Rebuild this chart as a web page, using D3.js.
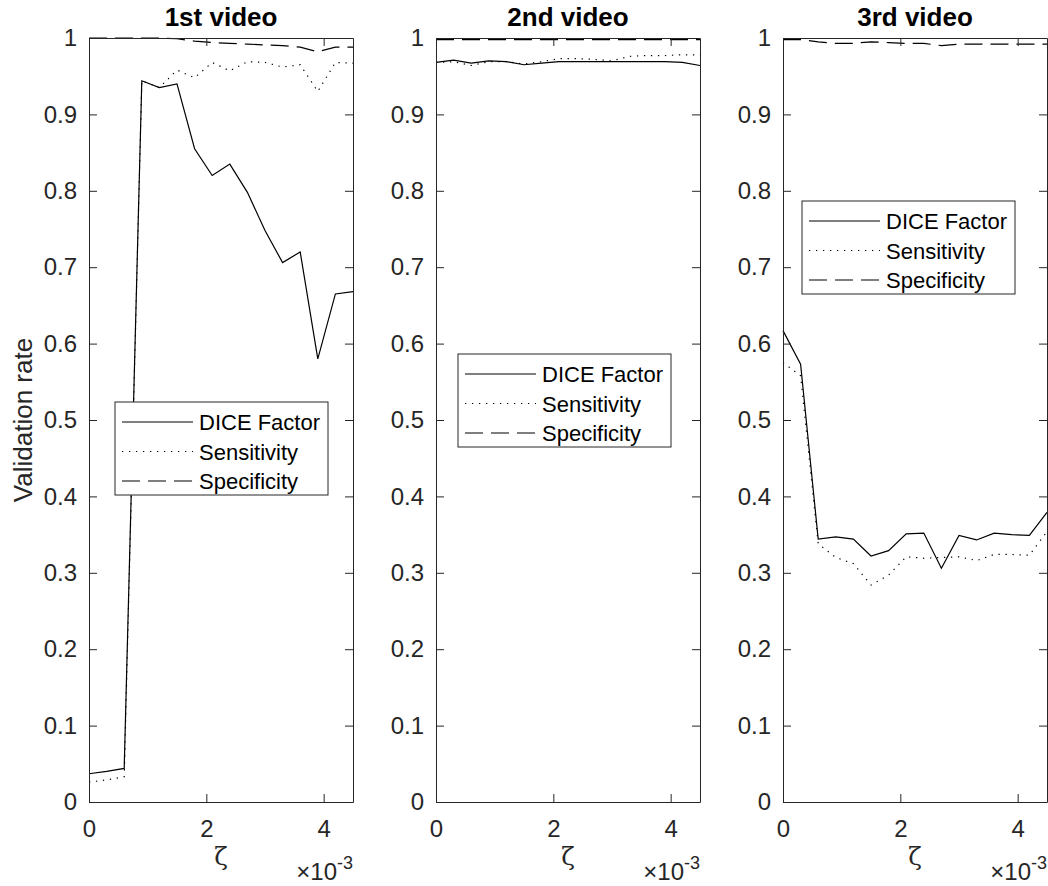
<!DOCTYPE html>
<html>
<head>
<meta charset="utf-8">
<script src="https://cdn.jsdelivr.net/npm/d3@7"></script>
<style>
  body { margin: 0; background: #fff; }
  svg { font-family: "Liberation Sans", Arial, sans-serif; }
</style>
</head>
<body>
<svg width="1048" height="886"></svg>
<script>
// zeta values (x axis) shared by every panel
var zeta = [0, 0.0003, 0.0006, 0.0009, 0.0012, 0.0015, 0.0018, 0.0021, 0.0024,
            0.0027, 0.0030, 0.0033, 0.0036, 0.0039, 0.0042, 0.0045];
var xTicks = [0, 0.002, 0.004];
var yTicks = [0, 0.1, 0.2, 0.3, 0.4, 0.5, 0.6, 0.7, 0.8, 0.9, 1];
var titles = ['1st video', '2nd video', '3rd video'];
var seriesNames = ['DICE Factor', 'Sensitivity', 'Specificity'];

// 1st video
var dice1 = [0.037, 0.040, 0.044, 0.944, 0.935, 0.940, 0.855, 0.820, 0.835, 0.798, 0.748, 0.706, 0.720, 0.580, 0.665, 0.668];
var sens1 = [0.026, 0.029, 0.033, 0.944, 0.935, 0.958, 0.948, 0.968, 0.957, 0.969, 0.968, 0.962, 0.965, 0.930, 0.968, 0.967];
var spec1 = [1.000, 1.000, 1.000, 1.000, 1.000, 0.999, 0.996, 0.994, 0.993, 0.992, 0.991, 0.990, 0.988, 0.982, 0.988, 0.988];
// 2nd video
var dice2 = [0.968, 0.971, 0.967, 0.970, 0.969, 0.965, 0.967, 0.969, 0.969, 0.969, 0.969, 0.969, 0.969, 0.969, 0.968, 0.964];
var sens2 = [0.968, 0.969, 0.964, 0.969, 0.969, 0.966, 0.969, 0.973, 0.973, 0.972, 0.970, 0.976, 0.977, 0.977, 0.978, 0.978];
var spec2 = [0.998, 0.998, 0.998, 0.998, 0.998, 0.998, 0.998, 0.998, 0.998, 0.998, 0.998, 0.998, 0.998, 0.998, 0.998, 0.998];
// 3rd video
var dice3 = [0.617, 0.573, 0.344, 0.347, 0.344, 0.322, 0.329, 0.351, 0.352, 0.306, 0.349, 0.343, 0.352, 0.350, 0.349, 0.379];
var sens3 = [0.575, 0.558, 0.338, 0.320, 0.312, 0.284, 0.297, 0.321, 0.319, 0.320, 0.321, 0.316, 0.324, 0.324, 0.323, 0.354];
var spec3 = [0.998, 0.998, 0.995, 0.993, 0.993, 0.995, 0.994, 0.993, 0.993, 0.990, 0.992, 0.992, 0.992, 0.992, 0.992, 0.992];

var panels = [
  { title: titles[0], series: [dice1, sens1, spec1], left: 89,  legend: { x: 26, y: 364 } },
  { title: titles[1], series: [dice2, sens2, spec2], left: 436, legend: { x: 22, y: 316 } },
  { title: titles[2], series: [dice3, sens3, spec3], left: 783, legend: { x: 19, y: 163 } }
];

var dashes = [null, '1.3,5.7', '18,8'];
var axisColor = '#262626';

var svg = d3.select('svg');
var marginTop = 38, h = 764, w = 264;

var y = d3.scaleLinear().domain([0, 1]).range([h, 0]);
var x = d3.scaleLinear().domain([0, 0.0045]).range([0, w]);

panels.forEach(function(p, pi) {
    var g = svg.append('g')
        .attr('transform', 'translate(' + p.left + ',' + marginTop + ')');

    // lines
    var line = d3.line()
        .x(function(d, i) { return x(zeta[i]); })
        .y(function(d) { return y(d); });

    p.series.forEach(function(s, si) {
        g.append('path')
            .datum(s)
            .attr('d', line)
            .attr('fill', 'none')
            .attr('stroke', '#000')
            .attr('stroke-width', 1.2)
            .attr('stroke-dasharray', dashes[si]);
    });

    // axes (MATLAB style: ticks inside, box on)
    var yAxis = d3.axisLeft(y).tickValues(yTicks).tickSize(-8).tickSizeOuter(0).tickPadding(12)
        .tickFormat(function(d) { return d3.format('~g')(d); });
    var yAxisR = d3.axisRight(y).tickValues(yTicks).tickSize(-8).tickSizeOuter(0).tickFormat('');
    var xAxis = d3.axisBottom(x).tickValues(xTicks).tickSize(-8).tickSizeOuter(0).tickPadding(18)
        .tickFormat(function(d) { return Math.round(d * 1000); });
    var xAxisT = d3.axisTop(x).tickValues(xTicks).tickSize(-8).tickSizeOuter(0).tickFormat('');

    g.append('g').call(yAxis);
    g.append('g').attr('transform', 'translate(' + w + ',0)').call(yAxisR);
    g.append('g').attr('transform', 'translate(0,' + h + ')').call(xAxis);
    g.append('g').call(xAxisT);

    g.selectAll('.domain, .tick line').attr('stroke', axisColor).attr('stroke-width', 1);
    g.selectAll('.tick text')
        .attr('fill', axisColor)
        .style('font-size', '24px')
        .style('font-family', '"Liberation Sans", Arial, sans-serif');

    // title
    g.append('text')
        .attr('x', w / 2)
        .attr('y', -12)
        .attr('text-anchor', 'middle')
        .style('font-size', '26px')
        .style('font-weight', 'bold')
        .attr('fill', '#000')
        .text(p.title);

    // x label
    g.append('text')
        .attr('x', w / 2)
        .attr('y', h + 63)
        .attr('text-anchor', 'middle')
        .style('font-size', '25px')
        .style('font-family', '"DejaVu Serif", serif')
        .attr('fill', axisColor)
        .text('ζ');

    // exponent
    var ex = g.append('text')
        .attr('x', w)
        .attr('y', h + 78)
        .attr('text-anchor', 'end')
        .style('font-size', '24px')
        .attr('fill', axisColor);
    ex.append('tspan').text('×10');
    ex.append('tspan').attr('dy', -11).style('font-size', '18px').text('-3');

    // legend
    var lg = g.append('g').attr('transform', 'translate(' + p.legend.x + ',' + p.legend.y + ')');
    lg.append('rect')
        .attr('width', 213)
        .attr('height', 93)
        .attr('fill', '#fff')
        .attr('stroke', axisColor)
        .attr('stroke-width', 1);
    seriesNames.forEach(function(name, si) {
        var ry = 20 + si * 29.5;
        lg.append('line')
            .attr('x1', 7).attr('x2', 78)
            .attr('y1', ry).attr('y2', ry)
            .attr('stroke', '#000')
            .attr('stroke-width', 1.2)
            .attr('stroke-dasharray', dashes[si]);
        lg.append('text')
            .attr('x', 84)
            .attr('y', ry + 8)
            .style('font-size', '22px')
            .attr('fill', '#000')
            .text(name);
    });

    // y label, first panel only
    if (pi === 0) {
        g.append('text')
            .attr('transform', 'translate(-57,' + (h / 2) + ') rotate(-90)')
            .attr('text-anchor', 'middle')
            .style('font-size', '26px')
            .attr('fill', axisColor)
            .text('Validation rate');
    }
});
</script>
</body>
</html>
